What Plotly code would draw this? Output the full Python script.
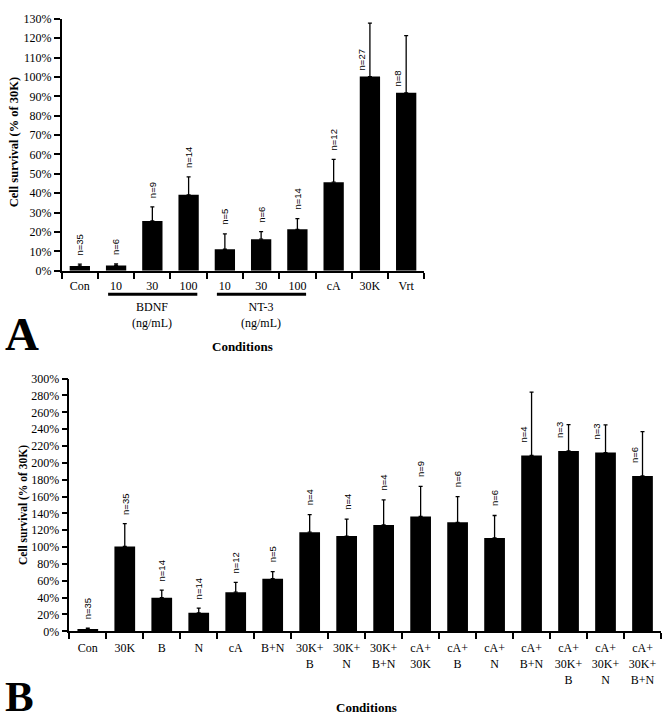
import numpy as np
import plotly.graph_objects as go

# ---------------- data ----------------
a_labels = ["Con", "10", "30", "100", "10", "30", "100", "cA", "30K", "Vrt"]
a_mean = [2.5, 2.7, 25.7, 39.2, 11.1, 16.3, 21.4, 45.7, 100.2, 91.8]
a_upper = [3.4, 3.5, 33.0, 48.4, 19.0, 20.2, 26.9, 57.5, 127.8, 121.3]
a_n = [35, 6, 9, 14, 5, 6, 14, 12, 27, 8]
a_groups = [("BDNF<br>(ng/mL)", 1, 3), ("NT-3<br>(ng/mL)", 4, 6)]

b_labels = ["Con", "30K", "B", "N", "cA", "B+N",
            "30K+<br>B", "30K+<br>N", "30K+<br>B+N",
            "cA+<br>30K", "cA+<br>B", "cA+<br>N", "cA+<br>B+N",
            "cA+<br>30K+<br>B", "cA+<br>30K+<br>N", "cA+<br>30K+<br>B+N"]
b_mean = [2.7, 100.7, 39.9, 22.0, 46.5, 62.4, 117.7, 113.1, 126.3,
          136.3, 129.4, 110.8, 208.8, 214.2, 212.2, 184.4]
b_upper = [3.9, 127.8, 48.8, 27.5, 58.1, 70.9, 138.6, 133.2, 156.1,
           172.0, 160.0, 137.5, 283.9, 245.5, 245.2, 237.0]
b_n = [35, 35, 14, 14, 12, 5, 4, 4, 4, 9, 6, 6, 4, 3, 3, 6]

# ---------------- layout constants ----------------
W, H = 667, 720
SERIF = "Liberation Serif"
SANS = "Liberation Sans"


def px_x(p):
    return p / W


def px_y(p):
    return 1 - p / H


fig = go.Figure()
annotations = []
shapes = []

panels = [
    dict(labels=a_labels, mean=a_mean, upper=a_upper, n=a_n, xa="x", ya="y",
         ymax=130, dtick=10, top_gap=8, side_gap=5),
    dict(labels=b_labels, mean=b_mean, upper=b_upper, n=b_n, xa="x2", ya="y2",
         ymax=300, dtick=20, top_gap=8, side_gap=12),
]

for p in panels:
    idx = np.arange(len(p["labels"]))
    mean = np.array(p["mean"])
    upper = np.array(p["upper"])
    fig.add_trace(go.Bar(
        x=idx, y=mean, width=0.56, marker=dict(color="black", line=dict(width=0)),
        error_y=dict(type="data", symmetric=False, array=upper - mean,
                     arrayminus=np.zeros_like(mean), color="black",
                     thickness=1.3, width=2),
        xaxis=p["xa"], yaxis=p["ya"], showlegend=False, hoverinfo="skip"))
    for i, (m, u, nn) in enumerate(zip(mean, upper, p["n"])):
        side = m > 0.55 * p["ymax"]
        annotations.append(dict(
            x=i, y=(m if side else u), xref=p["xa"], yref=p["ya"],
            text=f"n={nn}", showarrow=False, textangle=-90,
            xanchor="center", yanchor="bottom",
            xshift=(-8.5 if side else 0),
            yshift=(p["side_gap"] if side else p["top_gap"]),
            font=dict(family=SANS, size=9.5, color="black"), borderpad=0))

axis_common = dict(showgrid=False, zeroline=False, showline=True,
                   linecolor="black", linewidth=1.5)

xa_ticks = dict(tickmode="array", ticks="outside",
                tickcolor="rgba(0,0,0,0)",
                tickfont=dict(family=SERIF, size=12, color="black"))
minor_ticks = dict(tickmode="array", ticks="outside", ticklen=6,
                   tickwidth=1.5, tickcolor="black")

fig.update_layout(
    width=W, height=H, margin=dict(l=0, r=0, t=0, b=0),
    paper_bgcolor="white", plot_bgcolor="white",
    xaxis=dict(domain=[px_x(61.7), px_x(424.3)], range=[-0.5, len(a_labels) - 0.5],
               anchor="y", tickvals=list(range(len(a_labels))), ticktext=a_labels,
               ticklen=3,
               minor=dict(minor_ticks,
                          tickvals=list(np.arange(-0.5, len(a_labels), 1.0))),
               **xa_ticks, **axis_common),
    yaxis=dict(domain=[px_y(269), px_y(12)], range=[0, 130], anchor="x",
               tickmode="linear", tick0=0, dtick=10, ticksuffix="%",
               ticks="outside", ticklen=6, tickwidth=1.5, tickcolor="black",
               tickfont=dict(family=SERIF, size=12, color="black"),
               **axis_common),
    xaxis2=dict(domain=[px_x(69.3), px_x(661)], range=[-0.5, len(b_labels) - 0.5],
                anchor="y2", tickvals=list(range(len(b_labels))), ticktext=b_labels,
                ticklen=5,
                minor=dict(minor_ticks,
                           tickvals=list(np.arange(-0.5, len(b_labels), 1.0))),
                **xa_ticks, **axis_common),
    yaxis2=dict(domain=[px_y(636.7), px_y(379)], range=[0, 300], anchor="x2",
                tickmode="linear", tick0=0, dtick=20, ticksuffix="%",
                ticks="outside", ticklen=6, tickwidth=1.5, tickcolor="black",
                tickfont=dict(family=SERIF, size=12, color="black"),
                **axis_common),
    bargap=0.44,
)

# group bars under panel A
for text, s, e in a_groups:
    shapes.append(dict(type="line", xref="x", yref="paper",
                       x0=s - 0.22, x1=e + 0.24, y0=px_y(293), y1=px_y(293),
                       line=dict(color="black", width=3)))
    annotations.append(dict(x=(s + e) / 2, y=px_y(297), xref="x", yref="paper",
                            text=text, showarrow=False, xanchor="center",
                            yanchor="top", align="center",
                            font=dict(family=SERIF, size=12, color="black")))


def label(x, y, text, size, angle=0):
    return dict(x=px_x(x), y=px_y(y), xref="paper", yref="paper",
                text=text, textangle=angle, showarrow=False,
                xanchor="center", yanchor="middle",
                font=dict(family=SERIF, size=size, color="black"))


annotations += [
    label(14, 138, "<b>Cell survival (% of 30K)</b>", 12.5, -90),
    label(23, 508, "<b>Cell survival (% of 30K)</b>", 11.5, -90),
    label(242, 346, "<b>Conditions</b>", 13),
    label(366, 714, "<b>Conditions</b>", 13),
    label(22, 333, "<b>A</b>", 47),
    label(19, 703, "<b>B</b>", 43),
]

fig.update_layout(annotations=annotations, shapes=shapes)
fig.write_html(
    "out.html",
    config={"displayModeBar": False},
    post_script="document.body.style.margin='0';document.body.style.padding='0';",
)
